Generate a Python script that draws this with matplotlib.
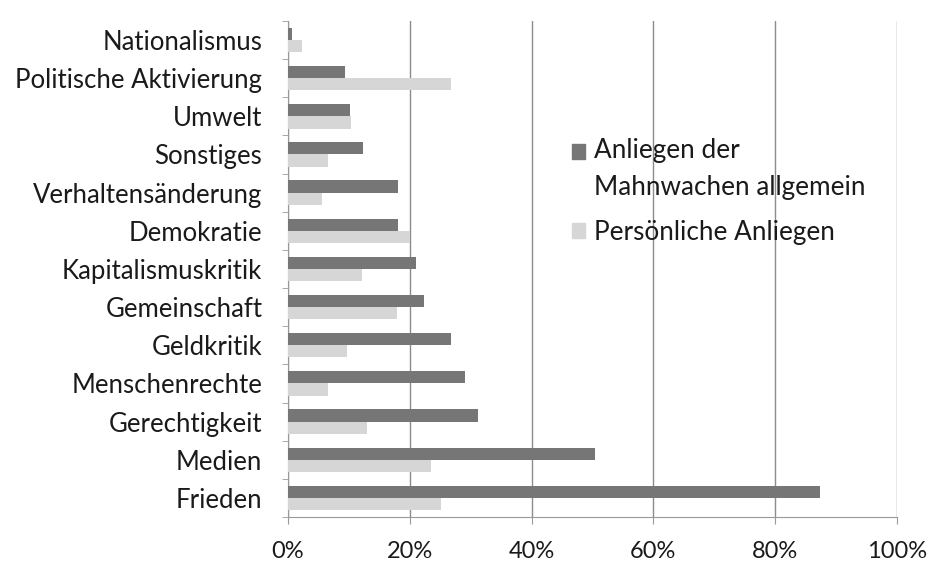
import numpy as np
import matplotlib.pyplot as plt
from matplotlib.patches import Patch, Rectangle
from matplotlib.legend_handler import HandlerPatch
from matplotlib.ticker import FixedLocator, PercentFormatter

plt.rcParams['font.family'] = ['Lato', 'DejaVu Sans']

kategorien = ['Nationalismus', 'Politische Aktivierung', 'Umwelt', 'Sonstiges',
              'Verhaltensänderung', 'Demokratie', 'Kapitalismuskritik',
              'Gemeinschaft', 'Geldkritik', 'Menschenrechte', 'Gerechtigkeit',
              'Medien', 'Frieden']
allgemein = [0.6, 9.4, 10.2, 12.3, 18.0, 18.1, 21.0, 22.4, 26.8, 29.0, 31.2, 50.4, 87.4]
persoenlich = [2.3, 26.8, 10.4, 6.5, 5.6, 20.1, 12.1, 17.9, 9.7, 6.5, 13.0, 23.5, 25.2]

dunkel = '#767676'
hell = '#d6d6d6'

fig = plt.figure(figsize=(9.3, 5.66), dpi=100)
ax = fig.add_axes([0.3097, 0.0866, 0.6548, 0.8764])

y = np.arange(len(kategorien))
h = 0.32
ax.barh(y - h / 2, allgemein, height=h, color=dunkel, zorder=3)
ax.barh(y + h / 2, persoenlich, height=h, color=hell, zorder=3)

ax.set_ylim(len(kategorien) - 0.5, -0.5)
ax.set_xlim(0, 100)
ax.set_yticks(y)
ax.set_yticklabels(kategorien, fontsize=18.5, color='#1a1a1a')
ax.yaxis.set_minor_locator(FixedLocator(np.arange(-0.5, len(kategorien), 1)))
ax.tick_params(axis='y', which='major', length=0, pad=18.5)
ax.tick_params(axis='y', which='minor', length=4, color='#999999')

ax.set_xticks(np.arange(0, 101, 20))
ax.xaxis.set_major_formatter(PercentFormatter(decimals=0))
ax.tick_params(axis='x', length=5, color='#999999', labelsize=17, labelcolor='#1a1a1a', pad=12)

ax.grid(axis='x', color='#8c8c8c', linewidth=1, zorder=0)
for side in ['top', 'right']:
    ax.spines[side].set_visible(False)
for side in ['left', 'bottom']:
    ax.spines[side].set_color('#999999')


# square next to the first line of a two-line label
def oben(legend, orig_handle, xdescent, ydescent, width, height, fontsize):
    return Rectangle((-xdescent, -ydescent + 13), width, height)


h1 = Patch(color=dunkel)
h2 = Patch(color=hell)
leg = ax.legend([h1, h2], ['Anliegen der\nMahnwachen allgemein', 'Persönliche Anliegen'],
                handler_map={h1: HandlerPatch(patch_func=oben)},
                loc='upper left', bbox_to_anchor=(0.428, 0.812), frameon=False,
                fontsize=18.8, handlelength=0.5, handleheight=0.5, handletextpad=0.35,
                labelspacing=0.78)
for t in leg.get_texts():
    t.set_linespacing(1.6)
    t.set_color('#1a1a1a')

fig.savefig('out.png', dpi=100)
